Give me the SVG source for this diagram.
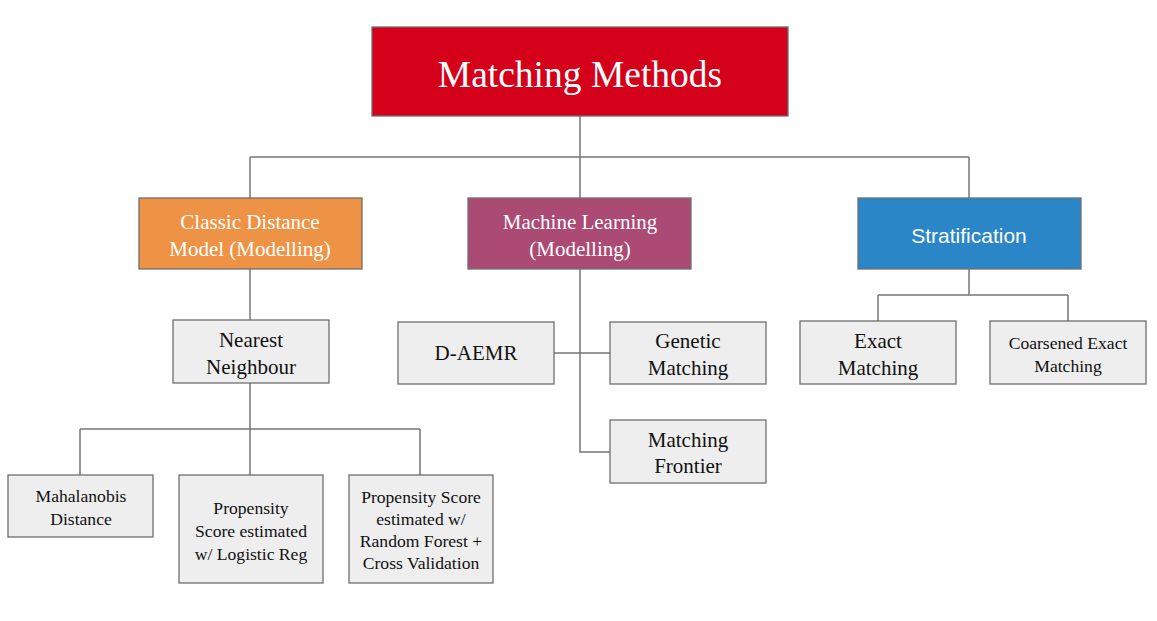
<svg xmlns="http://www.w3.org/2000/svg" width="1157" height="621" viewBox="0 0 1157 621">
<style>
.box{stroke:#6f6f6f;stroke-width:1.3}
.leaf{fill:#eeeeee}
.t{font-family:"Liberation Serif",serif;text-anchor:middle;fill:#111}
.s{font-size:17.6px}
.w{font-family:"Liberation Serif",serif;text-anchor:middle;fill:#ffffff}
.c{fill:none;stroke:#777;stroke-width:1.5}
</style>
<rect width="1157" height="621" fill="#ffffff"/>
<g id="connectors">
<path class="c" d="M580,116V157M250,157H969M250,157V198M580,157V198M969,157V198"/>
<path class="c" d="M250,269V320"/>
<path class="c" d="M250,383V429M80,429H420M80,429V475M250,429V475M420,429V475"/>
<path class="c" d="M580,269V452H610M554,353H610"/>
<path class="c" d="M969,269V295M878,295H1068M878,295V321M1068,295V321"/>
</g>
<g id="root">
<rect class="box" x="372" y="27" width="416" height="89" fill="#d50019"/>
<text class="w" x="580" y="87" font-size="37.5">Matching Methods</text>
</g>
<g id="classic">
<rect class="box" x="139" y="198" width="223" height="71" fill="#ee9346"/>
<text class="w" x="250" y="229" font-size="21">Classic Distance</text>
<text class="w" x="250" y="256" font-size="21">Model (Modelling)</text>
</g>
<g id="ml">
<rect class="box" x="468" y="198" width="223" height="71" fill="#ab4a73"/>
<text class="w" x="580" y="229" font-size="21">Machine Learning</text>
<text class="w" x="580" y="256" font-size="21">(Modelling)</text>
</g>
<g id="strat">
<rect class="box" x="858" y="198" width="223" height="71" fill="#2a86c6"/>
<text x="969" y="243" font-size="21" font-family="'Liberation Sans',Arial,sans-serif" text-anchor="middle" fill="#ffffff">Stratification</text>
</g>
<g id="nn">
<rect class="box leaf" x="173" y="320" width="156" height="63"/>
<text class="t" x="251" y="347" font-size="21">Nearest</text>
<text class="t" x="251" y="374" font-size="21">Neighbour</text>
</g>
<g id="daemr">
<rect class="box leaf" x="398" y="322" width="156" height="62"/>
<text class="t" x="476" y="360" font-size="21">D-AEMR</text>
</g>
<g id="genetic">
<rect class="box leaf" x="610" y="322" width="156" height="62"/>
<text class="t" x="688" y="348" font-size="21">Genetic</text>
<text class="t" x="688" y="375" font-size="21">Matching</text>
</g>
<g id="frontier">
<rect class="box leaf" x="610" y="420" width="156" height="63"/>
<text class="t" x="688" y="447" font-size="21">Matching</text>
<text class="t" x="688" y="473" font-size="21">Frontier</text>
</g>
<g id="exact">
<rect class="box leaf" x="800" y="321" width="156" height="63"/>
<text class="t" x="878" y="348" font-size="21">Exact</text>
<text class="t" x="878" y="375" font-size="21">Matching</text>
</g>
<g id="coarsened">
<rect class="box leaf" x="990" y="321" width="156" height="63"/>
<text class="t s" x="1068" y="349">Coarsened Exact</text>
<text class="t s" x="1068" y="372">Matching</text>
</g>
<g id="mahalanobis">
<rect class="box leaf" x="8" y="475" width="145" height="62"/>
<text class="t s" x="81" y="502">Mahalanobis</text>
<text class="t s" x="81" y="525">Distance</text>
</g>
<g id="pslr">
<rect class="box leaf" x="179" y="475" width="144" height="108"/>
<text class="t s" x="251" y="514">Propensity</text>
<text class="t s" x="251" y="537">Score estimated</text>
<text class="t s" x="251" y="560">w/ Logistic Reg</text>
</g>
<g id="psrf">
<rect class="box leaf" x="349" y="475" width="144" height="108"/>
<text class="t s" x="421" y="503">Propensity Score</text>
<text class="t s" x="421" y="525">estimated w/</text>
<text class="t s" x="421" y="547">Random Forest +</text>
<text class="t s" x="421" y="569">Cross Validation</text>
</g>
</svg>
